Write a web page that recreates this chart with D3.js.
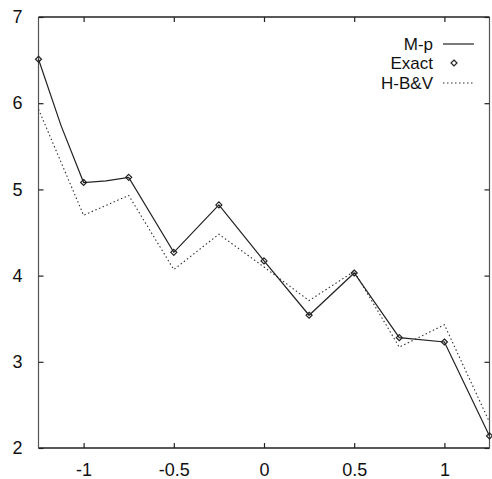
<!DOCTYPE html>
<html>
<head>
<meta charset="utf-8">
<script src="https://cdn.jsdelivr.net/npm/d3@7"></script>
<style>
  body { margin: 0; background: #fff; }
  svg { display: block; }
  text { font-family: "Liberation Sans", Arial, sans-serif; fill: #111; }
</style>
</head>
<body>
<div id="chart"></div>
<script>
// values
const xs_exact = [-1.25, -1, -0.75, -0.5, -0.25, 0, 0.25, 0.5, 0.75, 1, 1.25];
const ys_exact = [6.51, 5.08, 5.14, 4.27, 4.82, 4.17, 3.54, 4.03, 3.28, 3.23, 2.14];

const xs_mp = [-1.25, -1.125, -1, -0.875, -0.75, -0.5, -0.25, 0, 0.25, 0.5, 0.75, 1, 1.25];
const ys_mp = [6.51, 5.74, 5.08, 5.10, 5.14, 4.27, 4.82, 4.17, 3.54, 4.03, 3.28, 3.23, 2.14];

const xs_hbv = [-1.25, -1, -0.75, -0.5, -0.25, 0, 0.25, 0.5, 0.75, 1, 1.25];
const ys_hbv = [5.93, 4.70, 4.93, 4.07, 4.48, 4.10, 3.71, 4.05, 3.17, 3.43, 2.30];

const xticks = [-1, -0.5, 0, 0.5, 1];
const yticks = [2, 3, 4, 5, 6, 7];
const legendLabels = ["M-p", "Exact", "H-B&V"];

const width = 492, height = 479;
const margin = { top: 17, right: 2.5, bottom: 31, left: 38.5 };

const svg = d3.select("#chart").append("svg")
    .attr("width", width)
    .attr("height", height);

const x = d3.scaleLinear().domain([-1.25, 1.25]).range([margin.left, width - margin.right]);
const y = d3.scaleLinear().domain([2, 7]).range([height - margin.bottom, margin.top]);

// plain hyphen minus, like the original
const fmt = d => String(d);

// frame
const x0 = x.range()[0], x1 = x.range()[1], y0 = y.range()[0], y1 = y.range()[1];
svg.append("line").attr("x1", x0).attr("x2", x1).attr("y1", y0).attr("y2", y0)
    .attr("stroke", "#222").attr("stroke-width", 1.5);
svg.append("line").attr("x1", x0).attr("x2", x1).attr("y1", y1).attr("y2", y1)
    .attr("stroke", "#222").attr("stroke-width", 1.5);
svg.append("line").attr("x1", x0).attr("x2", x0).attr("y1", y0).attr("y2", y1)
    .attr("stroke", "#555").attr("stroke-width", 1.2);
svg.append("line").attr("x1", x1).attr("x2", x1).attr("y1", y0).attr("y2", y1)
    .attr("stroke", "#555").attr("stroke-width", 1.2);

// axes with inward ticks
const xAxis = svg.append("g").attr("transform", `translate(0,${y0})`)
    .call(d3.axisBottom(x).tickValues(xticks).tickSize(-5).tickPadding(15).tickFormat(fmt));
const xTop = svg.append("g").attr("transform", `translate(0,${y1})`)
    .call(d3.axisTop(x).tickValues(xticks).tickSize(-5).tickFormat(""));
const yAxis = svg.append("g").attr("transform", `translate(${x0},0)`)
    .call(d3.axisLeft(y).tickValues(yticks).tickSize(-5).tickPadding(16).tickFormat(fmt));
const yRight = svg.append("g").attr("transform", `translate(${x1},0)`)
    .call(d3.axisRight(y).tickValues(yticks).tickSize(-5).tickFormat(""));

[xAxis, xTop, yAxis, yRight].forEach(g => {
    g.select(".domain").remove();
    g.selectAll(".tick line").attr("stroke", "#222").attr("stroke-width", 1.2);
    g.selectAll("text").attr("font-size", 18).attr("fill", "#111")
        .style("font-family", "'Liberation Sans', Arial, sans-serif");
});
xAxis.selectAll("text").attr("dy", "0.71em");

const line = d3.line().x(d => x(d[0])).y(d => y(d[1]));

// H-B&V dotted
svg.append("path")
    .datum(d3.zip(xs_hbv, ys_hbv))
    .attr("fill", "none")
    .attr("stroke", "#333")
    .attr("stroke-width", 1.1)
    .attr("stroke-dasharray", "1.5,2.5")
    .attr("d", line);

// M-p solid
svg.append("path")
    .datum(d3.zip(xs_mp, ys_mp))
    .attr("fill", "none")
    .attr("stroke", "#222")
    .attr("stroke-width", 1.2)
    .attr("d", line);

// Exact diamonds
const diamond = s => `M0,${-s}L${s},0L0,${s}L${-s},0Z`;
svg.append("g").selectAll("path")
    .data(d3.zip(xs_exact, ys_exact))
    .join("path")
        .attr("transform", d => `translate(${x(d[0])},${y(d[1])})`)
        .attr("d", diamond(3))
        .attr("fill", "none")
        .attr("stroke", "#222")
        .attr("stroke-width", 1.2);

// legend
const legend = svg.append("g");
const ly = [44, 63, 83];
legendLabels.forEach((lab, i) => {
    legend.append("text")
        .attr("x", 433).attr("y", ly[i])
        .attr("dy", "0.35em")
        .attr("text-anchor", "end")
        .attr("font-size", 17)
        .text(lab);
});
legend.append("line").attr("x1", 443).attr("x2", 474).attr("y1", ly[0]).attr("y2", ly[0])
    .attr("stroke", "#222").attr("stroke-width", 1.2);
legend.append("path").attr("transform", `translate(454,${ly[1]})`).attr("d", diamond(3))
    .attr("fill", "none").attr("stroke", "#222").attr("stroke-width", 1.2);
legend.append("line").attr("x1", 443).attr("x2", 474).attr("y1", ly[2]).attr("y2", ly[2])
    .attr("stroke", "#333").attr("stroke-width", 1.1).attr("stroke-dasharray", "1.5,2.5");
</script>
</body>
</html>
